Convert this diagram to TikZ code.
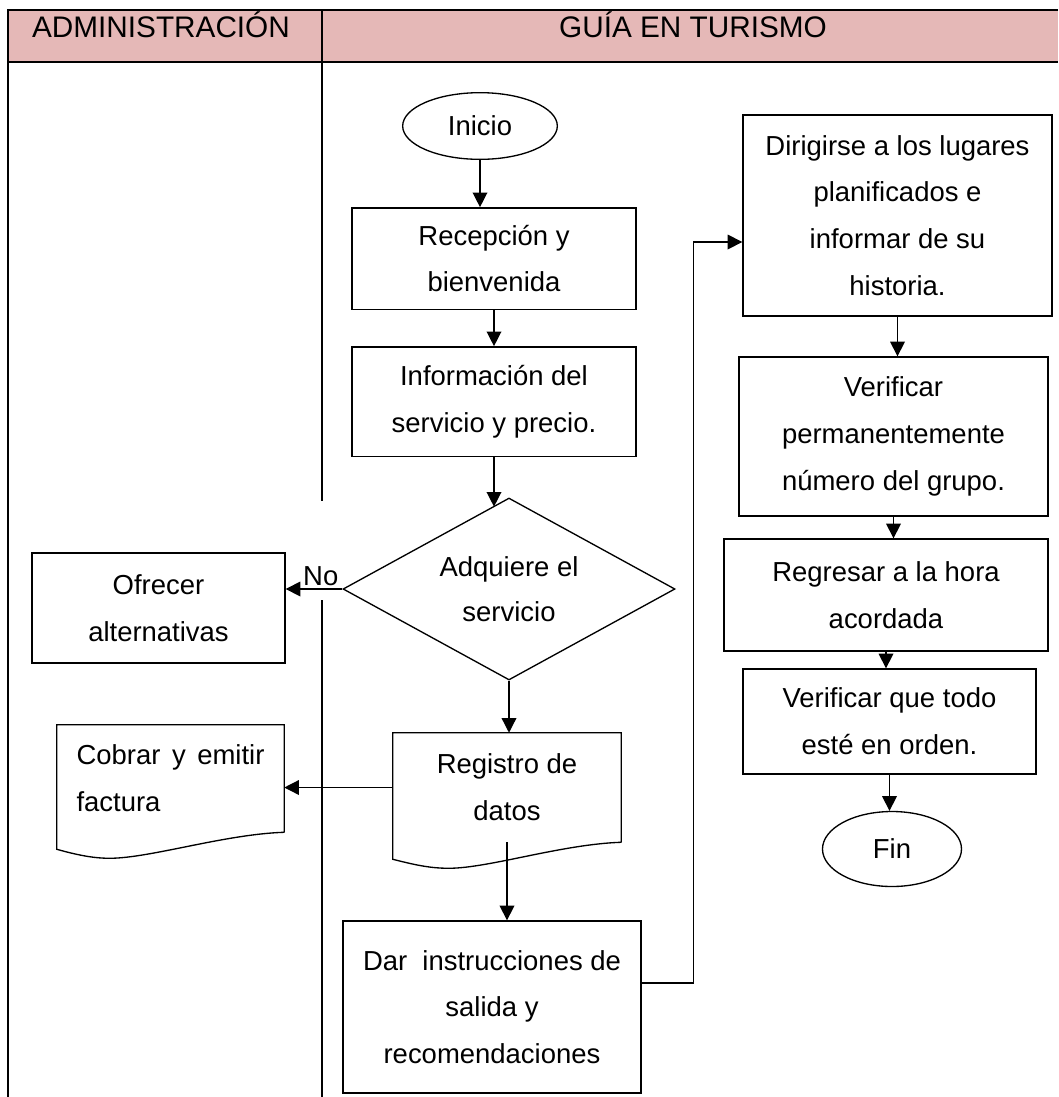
\documentclass[tikz,border=0pt]{standalone}
\usepackage{fontspec}
\setmainfont{Liberation Sans}
\usetikzlibrary{arrows.meta,calc,shapes.geometric}
\definecolor{headpink}{HTML}{E5B8B7}
\tikzset{
  node-term/.style={draw,ellipse,line width=1pt,inner sep=0pt,font={\fontsize{20.6}{35}\selectfont}},
  node-proc/.style={draw,rectangle,line width=1pt,inner sep=0pt,align=center,font={\fontsize{20.6}{35}\selectfont}},
  node-dec/.style={draw,diamond,aspect=1.82,line width=1pt,inner sep=0pt,align=center,font={\fontsize{20.6}{34}\selectfont}},
  node-doc/.style={rectangle,inner sep=0pt,align=center,font={\fontsize{20.6}{35}\selectfont}},
  docline/.style={line width=1pt,line join=miter},
  flow/.style={-{Triangle[length=11pt,width=11pt]},line width=1pt},
  head/.style={anchor=base,font={\fontsize{22.3}{27}\selectfont}},
  tablerule/.style={line width=1.5pt},
}
\begin{document}
\begin{tikzpicture}[x=0.75pt,y=-0.75pt]
  \useasboundingbox (0,0) rectangle (1058,1097);

  % TABLE
  \fill[headpink] (7.5,9.5) rectangle (1058,62);
  \draw[tablerule] (1058,9.5) -- (7.5,9.5) -- (7.5,1097);
  \draw[tablerule] (7.5,62) -- (1058,62);
  \draw[tablerule] (322,9.5) -- (322,501);
  \draw[tablerule] (322,600) -- (322,1097);
  \node[head] (hadm) at (161,37)  {ADMINISTRACIÓN};
  \node[head] (hgui) at (693,37)  {GUÍA EN TURISMO};

  % GUIA, LEFT COLUMN
  \node[node-term,minimum width=116pt,minimum height=50pt]     (ini) at (480,126)    {Inicio};
  \node[node-proc,minimum width=213pt,minimum height=76pt]     (rec) at (494,258.5)  {Recepción y\\bienvenida};
  \node[node-proc,minimum width=213pt,minimum height=82pt]     (inf) at (494,401.5)  {Información del\\servicio y precio.};
  \node[node-dec,minimum width=249pt,minimum height=136.5pt]   (adq) at (509,589)    {Adquiere el\\servicio};
  \node[node-doc,minimum width=171pt,minimum height=81.75pt]   (reg) at (507,787.5)  {Registro de\\datos};
  \node[node-proc,minimum width=223.5pt,minimum height=129pt]  (dar) at (492,1007)   {Dar\ \ instrucciones de\\salida y\\recomendaciones};
  \draw[docline] (reg.south east) -- (reg.north east) -- (reg.north west) -- ($(reg.south west)+(0,17)$)
    .. controls +(20,5) and +(-20,0) .. ($(reg.south west)+(56,26)$)
    .. controls +(40,0) and +(-60,2) .. (reg.south east);
  \draw[flow] (ini) -- (ini |- rec.north);
  \draw[flow] (rec) -- (inf);
  \draw[flow,shorten >=-7pt] (inf) -- (inf |- adq.north);
  \draw[flow] (adq) -- (adq |- reg.north);
  \draw[flow] (reg) -- (reg |- dar.north);

  % GUIA, RIGHT COLUMN
  \node[node-proc,minimum width=231.75pt,minimum height=150.75pt] (dir)  at (897.5,215.5) {Dirigirse a los lugares\\planificados e\\informar de su\\historia.};
  \node[node-proc,minimum width=231.75pt,minimum height=119.25pt] (ver)  at (893.5,436.5) {Verificar\\permanentemente\\número del grupo.};
  \node[node-proc,minimum width=243pt,minimum height=84pt]        (regr) at (886,595)     {Regresar a la hora\\acordada};
  \node[node-proc,minimum width=219.75pt,minimum height=78.75pt]  (vto)  at (889.5,721.5) {Verificar que todo\\esté en orden.};
  \node[node-term,minimum width=104.25pt,minimum height=56.25pt]  (fin)  at (892,849)     {Fin};
  \draw[flow] ($(dar.east)+(0,-24)$) -| ($(dir.west)+(-49,26.5)$) -- ($(dir.west)+(0,26.5)$);
  \draw[flow] (dir) -- (dir |- ver.north);
  \draw[flow] (ver) -- (ver |- regr.north);
  \draw[flow] (regr) -- (regr |- vto.north);
  \draw[flow] (vto) -- (vto |- fin.north);

  % ADMINISTRACION
  \node[node-proc,minimum width=189.75pt,minimum height=82.5pt] (ofr) at (158.5,608) {Ofrecer\\alternativas};
  \node[node-doc,minimum width=170.25pt,minimum height=80.25pt,text width=141pt,align=left] (cob) at (170.5,778.5) {Cobrar\hfill y\hfill emitir\\factura};
  \draw[docline] (cob.south east) -- (cob.north east) -- (cob.north west) -- ($(cob.south west)+(0,17)$)
    .. controls +(18,5) and +(-18,0) .. ($(cob.south west)+(53,26)$)
    .. controls +(40,0) and +(-60,2) .. (cob.south east);
  \draw[flow] (adq.west) -- (adq.west -| ofr.east)
    node[pos=0.38,above,inner sep=2pt,font={\fontsize{20.6}{24}\selectfont}] (no) {No};
  \draw[flow] (reg.west) -- (reg.west -| cob.east);

\end{tikzpicture}
\end{document}
